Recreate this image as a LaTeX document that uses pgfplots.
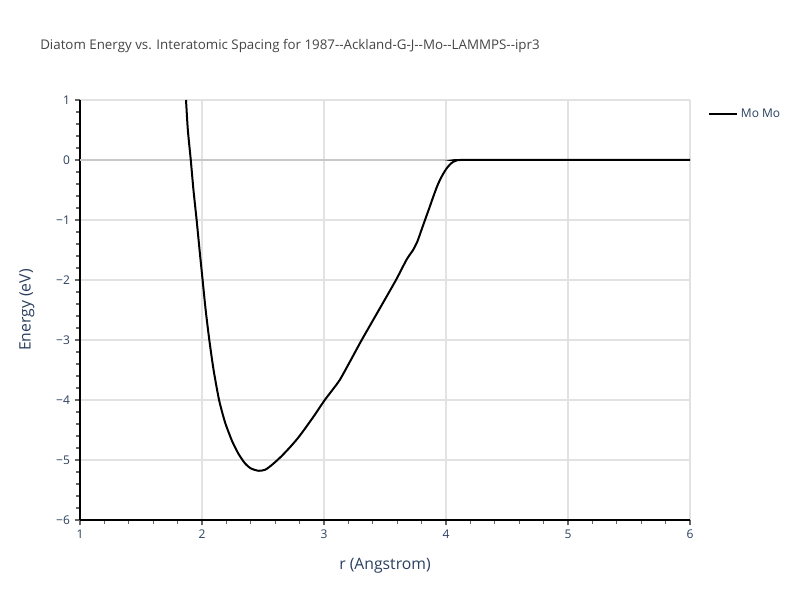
\documentclass[border=0pt]{standalone}
\usepackage{pgfplots}
\pgfplotsset{compat=1.18}
\usepackage{fontspec}
\setmainfont{Open Sans}
\definecolor{plotlyblue}{RGB}{42,63,95}
\definecolor{titlegray}{RGB}{68,68,68}
\definecolor{gridgray}{RGB}{226,226,226}
\definecolor{zerogray}{RGB}{200,200,200}
\begin{document}
\begin{tikzpicture}[x=1pt,y=1pt]
\begin{axis}[
  at={(60pt,60pt)}, anchor=south west,
  scale only axis, width=457.5pt, height=315pt,
  xmin=1, xmax=6, ymin=-6, ymax=1,
  xtick={1,2,3,4,5,6}, ytick={-6,-5,-4,-3,-2,-1,0,1},
  xticklabels={1,2,3,4,5,6},
  yticklabels={−6,−5,−4,−3,−2,−1,0,1},
  minor x tick num=4, minor y tick num=4,
  axis lines*=left,
  axis line style={black, line width=0.9pt, -},
  tick align=outside,
  major tick length=4pt, minor tick length=3pt,
  every tick/.style={gray!80!black, line width=0.8pt},
  grid=major,
  major grid style={gridgray, line width=0.8pt},
  tick label style={text=plotlyblue, font=\fontsize{9}{10}\selectfont},
  xlabel={r (Angstrom)}, ylabel={Energy (eV)},
  label style={text=plotlyblue, font=\fontsize{11.8}{13}\selectfont},
  xlabel style={at={(axis description cs:0.5,0)}, anchor=base, yshift=-37pt},
  ylabel style={at={(axis description cs:-0.081,0.5)}, anchor=base},
  legend style={at={(1.0295,0.967)}, anchor=west, draw=none, fill=none, font=\fontsize{9}{10}\selectfont, text=plotlyblue, inner sep=0pt},
  legend image code/.code={\draw[#1] (0pt,0pt) -- (21pt,0pt);},
  clip=true,
]
\addplot[zerogray, line width=1.2pt, forget plot] coordinates {(1,0) (6,0)};
\addplot[black, line width=1.5pt, smooth, tension=0.4] coordinates {
(1.869,1.0) (1.884,0.5) (1.908,0.0) (1.93,-0.5) (1.956,-1.0) (1.98,-1.5)
(2.005,-2.0) (2.03,-2.5) (2.06,-3.0) (2.095,-3.5) (2.14,-4.0) (2.19,-4.38)
(2.25,-4.7) (2.30,-4.9) (2.35,-5.05) (2.40,-5.14) (2.465,-5.18) (2.52,-5.16)
(2.58,-5.07) (2.65,-4.94) (2.72,-4.79) (2.78,-4.65) (2.836,-4.5) (2.92,-4.26)
(3.003,-4.01) (3.07,-3.83) (3.131,-3.66) (3.22,-3.333) (3.309,-3.0) (3.45,-2.5)
(3.59,-2.0) (3.677,-1.66) (3.73,-1.5) (3.765,-1.36) (3.8,-1.16) (3.828,-1.0)
(3.865,-0.79) (3.896,-0.61) (3.925,-0.45) (3.951,-0.33) (3.98,-0.22) (4.005,-0.14)
(4.035,-0.07) (4.06,-0.03) (4.09,-0.006) (4.12,0) (5,0) (6,0)
};
\addlegendentry{Mo Mo}
\end{axis}
\node[anchor=base west, text=titlegray, font=\fontsize{10}{12}\selectfont, inner sep=0] at (30pt,413pt) {Diatom Energy vs. Interatomic Spacing for 1987-{}-Ackland-G-J-{}-Mo-{}-LAMMPS-{}-ipr3};
\pgfresetboundingbox
\path (0pt,0pt) rectangle (600pt,450pt);
\end{tikzpicture}
\end{document}
